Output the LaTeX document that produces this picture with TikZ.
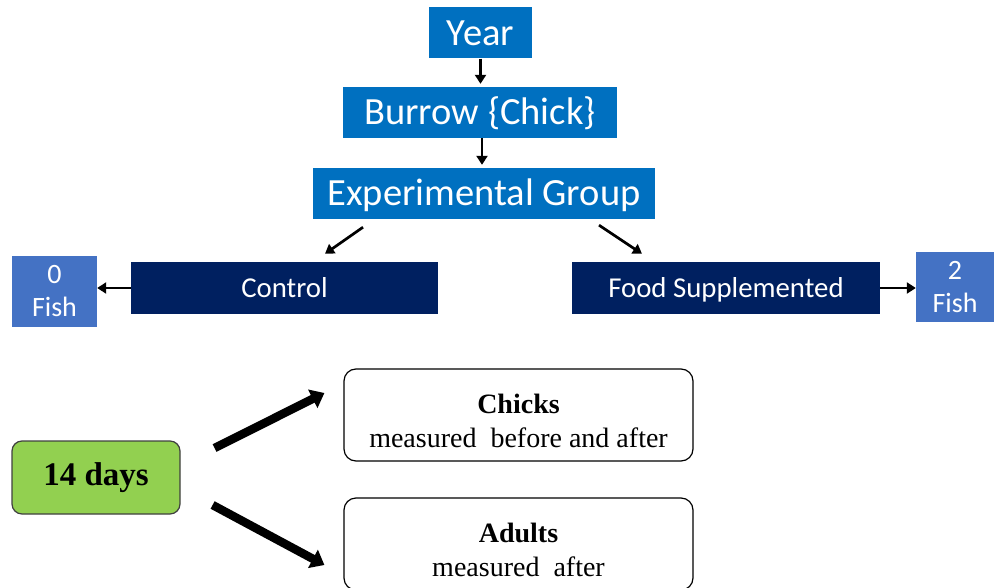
\documentclass[tikz,border=0pt]{standalone}
\usepackage{fontspec}
\setmainfont{Carlito}
\newfontfamily\timesfont{Liberation Serif}
\usetikzlibrary{arrows.meta}
\definecolor{yearblue}{RGB}{0,112,192}
\definecolor{navy}{RGB}{0,32,96}
\definecolor{fishblue}{RGB}{68,114,196}
\definecolor{daygreen}{RGB}{146,208,80}
\newcommand{\toplift}{\rule{0pt}{31pt}}
\begin{document}
\begin{tikzpicture}[x=1pt,y=-1pt,
  topbox/.style={fill=yearblue,text=white,inner sep=0pt,minimum height=51pt,text height=24.8pt,text depth=0pt,font=\fontsize{38.5}{44}\selectfont},
  groupbox/.style={fill=navy,text=white,inner sep=0pt,minimum width=307pt,minimum height=52pt,text height=18.5pt,text depth=0pt,font=\fontsize{28.8}{34}\selectfont},
  fishbox/.style={fill=fishblue,text=white,inner sep=0pt,align=center,font=\fontsize{28}{33}\selectfont},
  thin arrow/.style={-{Triangle[length=9pt,width=11pt]},line width=2.7pt},
  thick arrow/.style={-{Triangle[length=13pt,width=20pt]},line width=8.5pt},
  measurebox/.style={draw,line width=1.2pt,rounded corners=12pt,minimum width=349pt,minimum height=92pt,align=center,font=\timesfont\fontsize{28}{34}\selectfont}]
            \useasboundingbox (0,0) rectangle (995,588);
            % design levels
            \node[topbox,minimum width=103pt] (year) at (480.5,33) {Year};
            \node[topbox,minimum width=274pt] (burrow) at (480,112.5) {Burrow \{Chick\}};
            \node[topbox,minimum width=342pt] (expgroup) at (484,193.5) {Experimental Group};
            \node[groupbox] (control) at (284.5,288) {Control};
            \node[groupbox,minimum width=308pt] (food) at (726,288) {Food Supplemented};
            \node[fishbox,minimum width=85pt,minimum height=71pt] (zerofish) at (54.5,291.5) {0\\Fish};
            \node[fishbox,minimum width=78pt,minimum height=70pt] (twofish) at (955,287) {2\\Fish};
            \draw[thin arrow,shorten >=3pt] (year.south) -- (year.south |- burrow.north);
            \draw[thin arrow,shorten >=3pt] ([xshift=2pt]burrow.south) -- ([xshift=2pt]burrow.south |- expgroup.north);
            \draw[thin arrow] ([xshift=-121pt,yshift=-8pt]expgroup.south) -- ([xshift=40.5pt,yshift=8pt]control.north);
            \draw[thin arrow] ([xshift=115pt,yshift=-6pt]expgroup.south) -- ([xshift=-84pt,yshift=8pt]food.north);
            \draw[thin arrow] (control.west) -- (zerofish.east |- control.west);
            \draw[thin arrow] (food.east) -- (twofish.west |- food.east);
            % measurements
            \node[draw=darkgray,fill=daygreen,rounded corners=10pt,line width=1.2pt,minimum width=168pt,minimum height=73pt,font=\timesfont\bfseries\fontsize{33}{36}\selectfont] (days) at (96,477.5) {14 days};
            \node[measurebox] (chicks) at (518.5,415) {\toplift\textbf{Chicks}\\measured \ before and after};
            \node[measurebox] (adults) at (518.5,544) {\toplift\textbf{Adults}\\measured \ after};
            \draw[thick arrow] ([xshift=34pt,yshift=29.5pt]days.east) -- ([xshift=-19pt,yshift=22pt]chicks.west);
            \draw[thick arrow] ([xshift=32pt,yshift=-27.5pt]days.east) -- ([xshift=-19pt,yshift=-21pt]adults.west);
\end{tikzpicture}
\end{document}
